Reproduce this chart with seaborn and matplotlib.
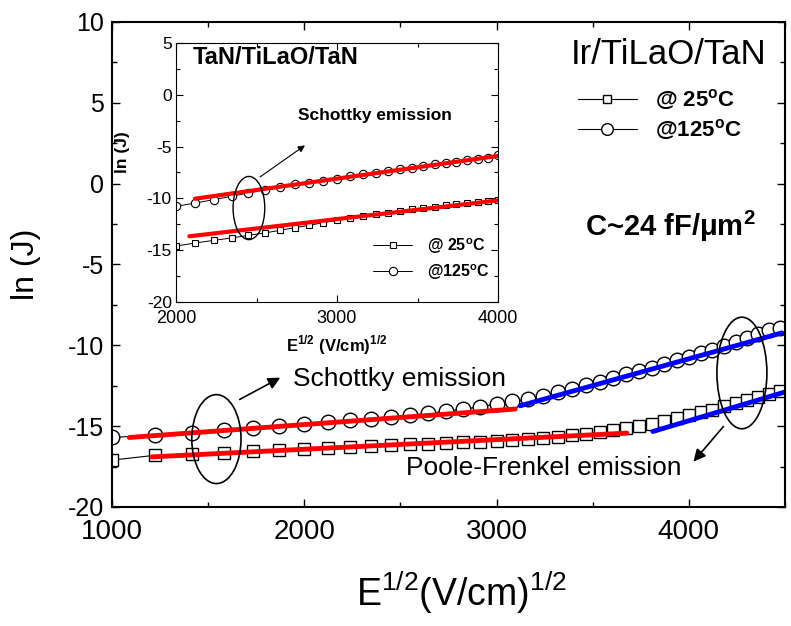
import matplotlib.pyplot as plt
import seaborn as sns
from matplotlib.patches import Ellipse
from matplotlib.ticker import MultipleLocator

sns.set_style('ticks')
plt.rcParams['font.family'] = ['Liberation Sans', 'DejaVu Sans']
plt.rcParams['mathtext.fontset'] = 'custom'
plt.rcParams['mathtext.rm'] = 'Liberation Sans'
plt.rcParams['mathtext.bf'] = 'Liberation Sans:bold'
plt.rcParams['axes.unicode_minus'] = False
for k in ['text.color', 'axes.labelcolor', 'xtick.color', 'ytick.color', 'axes.edgecolor']:
    plt.rcParams[k] = 'black'

# main panel data (Ir/TiLaO/TaN), x = E^1/2
e_main = [1000, 1225, 1414, 1581, 1732, 1871, 2000, 2121, 2236, 2345,
          2449, 2550, 2646, 2739, 2828, 2915, 3000, 3082, 3162, 3240,
          3317, 3391, 3464, 3536, 3606, 3674, 3742, 3808, 3873, 3937,
          4000, 4062, 4123, 4183, 4243, 4301, 4359, 4416, 4472]
lnj_25 = [-17.10, -16.80, -16.73, -16.63, -16.55, -16.48, -16.40, -16.34, -16.28, -16.22,
          -16.17, -16.13, -16.10, -16.05, -16.00, -15.95, -15.90, -15.84, -15.78, -15.72,
          -15.64, -15.56, -15.47, -15.36, -15.25, -15.12, -14.98, -14.84, -14.68, -14.50,
          -14.32, -14.15, -13.97, -13.78, -13.58, -13.38, -13.18, -12.98, -12.80]
lnj_125 = [-15.70, -15.55, -15.41, -15.25, -15.10, -14.98, -14.87, -14.77, -14.63, -14.53,
           -14.42, -14.32, -14.20, -14.08, -13.94, -13.80, -13.63, -13.47, -13.33, -13.12,
           -12.91, -12.71, -12.47, -12.25, -12.03, -11.78, -11.60, -11.40, -11.17, -10.92,
           -10.70, -10.48, -10.27, -10.06, -9.78, -9.55, -9.27, -9.05, -8.92]

# fitted lines (Schottky = red, Poole-Frenkel = blue)
sch_x_125 = [1090, 3097]
sch_y_125 = [-15.70, -13.94]
sch_x_25 = [1208, 3678]
sch_y_25 = [-16.90, -15.43]
pf_x_125 = [3123, 4484]
pf_y_125 = [-13.74, -9.23]
pf_x_25 = [3813, 4510]
pf_y_25 = [-15.33, -12.85]

# inset data (TaN/TiLaO/TaN)
e_inset = [2000, 2121, 2236, 2345, 2449, 2550, 2646, 2739, 2828, 2915,
           3000, 3082, 3162, 3240, 3317, 3391, 3464, 3536, 3606, 3674,
           3742, 3808, 3873, 3937, 4000]
ins_25 = [-14.60, -14.30, -14.05, -13.82, -13.57, -13.34, -13.08, -12.82, -12.60, -12.34,
          -12.12, -11.92, -11.73, -11.54, -11.38, -11.22, -11.06, -10.93, -10.80, -10.67,
          -10.57, -10.48, -10.38, -10.28, -10.12]
ins_125 = [-10.77, -10.44, -10.12, -9.80, -9.48, -9.16, -8.90, -8.64, -8.48, -8.29,
           -8.10, -7.87, -7.68, -7.55, -7.35, -7.19, -7.03, -6.87, -6.71, -6.58,
           -6.45, -6.33, -6.20, -6.10, -5.84]
ins_fit_x_125 = [2118, 4000]
ins_fit_y_125 = [-10.03, -5.90]
ins_fit_x_25 = [2083, 4000]
ins_fit_y_25 = [-13.66, -10.19]

lab25 = '@ 25$^{\\mathregular{o}}$C'
lab125 = '@125$^{\\mathregular{o}}$C'

fig = plt.figure(figsize=(7.91, 6.26), dpi=100)
ax = fig.add_axes([0.1416, 0.1901, 0.8508, 0.7748])

mk = dict(color='k', linewidth=0.8, markerfacecolor='white', markeredgecolor='k',
          markeredgewidth=1.0, estimator=None)
sns.lineplot(x=e_main, y=lnj_25, marker='s', markersize=8, ax=ax, **mk)
h25 = ax.lines[-1]
sns.lineplot(x=e_main, y=lnj_125, marker='o', markersize=10.5, ax=ax, **mk)
h125 = ax.lines[-1]

sns.lineplot(x=sch_x_125, y=sch_y_125, color='#ff0000', linewidth=3.5, ax=ax)
sns.lineplot(x=sch_x_25, y=sch_y_25, color='#ff0000', linewidth=3.5, ax=ax)
sns.lineplot(x=pf_x_125, y=pf_y_125, color='#0000ff', linewidth=3.5, ax=ax)
sns.lineplot(x=pf_x_25, y=pf_y_25, color='#0000ff', linewidth=3.5, ax=ax)

ax.set_xlim(1000, 4500)
ax.set_ylim(-20, 10)
ax.xaxis.set_major_locator(MultipleLocator(1000))
ax.xaxis.set_minor_locator(MultipleLocator(500))
ax.yaxis.set_major_locator(MultipleLocator(5))
ax.yaxis.set_minor_locator(MultipleLocator(2.5))
ax.tick_params(which='both', direction='in', top=True, right=True, width=1)
ax.tick_params(which='major', length=6)
ax.tick_params(which='minor', length=3.5)
ax.tick_params(axis='x', labelsize=20, pad=9)
ax.tick_params(axis='y', labelsize=18, pad=6)
for s in ax.spines.values():
    s.set_linewidth(1.5)

ax.set_xlabel('E$^{\\mathregular{1/2}}$(V/cm)$^{\\mathregular{1/2}}$', fontsize=27)
ax.xaxis.set_label_coords(0.519, -0.13)
ax.set_ylabel('ln (J)', fontsize=23)
ax.yaxis.set_label_coords(-0.105, 0.5)

ax.text(4406, 7.4, 'Ir/TiLaO/TaN', ha='right', va='baseline', fontsize=25)
ax.text(4345, -3.24, 'C~24 fF/\u03bcm$^{\\mathregular{2}}$', ha='right', va='baseline',
        fontsize=21, fontweight='bold')
ax.text(1941, -12.5, 'Schottky emission', ha='left', va='baseline', fontsize=19)
ax.text(3964, -18.0, 'Poole-Frenkel emission', ha='right', va='baseline', fontsize=19)

ax.add_patch(Ellipse((1543, -15.8), 256, 5.5, fill=False, ec='k', lw=1.2, zorder=4))
ax.add_patch(Ellipse((4276, -11.71), 260, 6.9, fill=False, ec='k', lw=1.2, zorder=4))
arr = dict(arrowstyle='-|>', color='k', lw=1.2, mutation_scale=18, shrinkA=0, shrinkB=0)
ax.annotate('', xy=(1875, -12.0), xytext=(1664, -13.35), arrowprops=arr)
ax.annotate('', xy=(4024, -17.19), xytext=(4180, -15.02), arrowprops=arr)

ax.legend(handles=[h25, h125], labels=[lab25, lab125], loc='center left',
          bbox_to_anchor=(0.6924, 0.808), frameon=False,
          prop={'weight': 'bold', 'size': 16}, handlelength=2.65, handletextpad=0.8,
          labelspacing=0.25, borderpad=0, borderaxespad=0, markerscale=0.8)

# inset
ax_in = fig.add_axes([0.2225, 0.5176, 0.4071, 0.4137])
mk_in = dict(color='k', linewidth=0.7, markerfacecolor='white', markeredgecolor='k',
             markeredgewidth=0.8, estimator=None)
sns.lineplot(x=e_inset, y=ins_25, marker='s', markersize=4.8, ax=ax_in, **mk_in)
g25 = ax_in.lines[-1]
sns.lineplot(x=e_inset, y=ins_125, marker='o', markersize=6, ax=ax_in, **mk_in)
g125 = ax_in.lines[-1]
sns.lineplot(x=ins_fit_x_125, y=ins_fit_y_125, color='#ff0000', linewidth=3, ax=ax_in)
sns.lineplot(x=ins_fit_x_25, y=ins_fit_y_25, color='#ff0000', linewidth=3, ax=ax_in)

ax_in.set_xlim(2000, 4000)
ax_in.set_ylim(-20, 5)
ax_in.xaxis.set_major_locator(MultipleLocator(1000))
ax_in.xaxis.set_minor_locator(MultipleLocator(500))
ax_in.yaxis.set_major_locator(MultipleLocator(5))
ax_in.yaxis.set_minor_locator(MultipleLocator(2.5))
ax_in.tick_params(which='both', direction='in', top=True, right=True, width=0.8)
ax_in.tick_params(which='major', length=5)
ax_in.tick_params(which='minor', length=3)
ax_in.tick_params(axis='x', labelsize=13, pad=6)
ax_in.tick_params(axis='y', labelsize=12.5, pad=3)
for s in ax_in.spines.values():
    s.set_linewidth(0.8)

ax_in.set_xlabel('E$^{\\mathregular{1/2}}$ (V/cm)$^{\\mathregular{1/2}}$', fontsize=12,
                 fontweight='bold')
ax_in.xaxis.set_label_coords(0.5, -0.12)
ax_in.set_ylabel('ln (J)', fontsize=12.5, fontweight='bold')
ax_in.yaxis.set_label_coords(-0.143, 0.579)

ax_in.text(2107, 3.0, 'TaN/TiLaO/TaN', ha='left', va='baseline', fontsize=17,
           fontweight='bold')
ax_in.text(2760, -2.46, 'Schottky emission', ha='left', va='baseline', fontsize=12.5,
           fontweight='bold')
ax_in.add_patch(Ellipse((2453, -10.93), 197, 6.1, fill=False, ec='k', lw=1, zorder=4))
ax_in.annotate('', xy=(2801, -4.88), xytext=(2522, -7.93),
               arrowprops=dict(arrowstyle='-|>', color='k', lw=0.8, mutation_scale=10,
                               shrinkA=0, shrinkB=0))

ax_in.legend(handles=[g25, g125], labels=[lab25, lab125], loc='center left',
             bbox_to_anchor=(0.612, 0.167), frameon=False,
             prop={'weight': 'bold', 'size': 11.5}, handlelength=2.45, handletextpad=0.9,
             labelspacing=0.4, borderpad=0, borderaxespad=0)

fig.savefig('out.png', dpi=100)
